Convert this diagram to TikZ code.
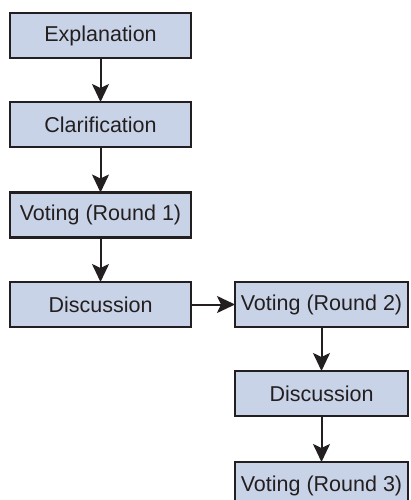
\documentclass[tikz,border=0pt]{standalone}
\usepackage{fontspec}
\setmainfont{Liberation Sans}
\usetikzlibrary{arrows.meta}
\definecolor{boxfill}{HTML}{C9D3E7}
\definecolor{ink}{HTML}{231F20}
\tikzset{
  stepbox/.style={draw=ink, line width=2.2pt, fill=boxfill, inner sep=0pt, outer sep=0pt},
  lbox/.style={stepbox, minimum width=181pt, minimum height=45pt},
  rbox/.style={stepbox, minimum width=173pt, minimum height=45pt},
  flow/.style={draw=ink, line width=2pt, -{Stealth[length=18pt,width=17pt,inset=4pt]}},
  lbl/.style={font=\fontsize{21.5pt}{25pt}\selectfont, text=ink}
}
\begin{document}
\begin{tikzpicture}[x=1pt,y=-1pt]
\useasboundingbox (0,0) rectangle (410,500);
\clip (0,0) rectangle (410,500);
\node[lbox] (n1) at (100.5,35.5) {};
\node[lbox] (n2) at (100.5,124.5) {};
\node[lbox] (n3) at (100.5,215) {};
\node[lbox] (n4) at (100.5,304.5) {};
\node[rbox] (n5) at (321.5,304.5) {};
\node[rbox] (n6) at (321.5,393.5) {};
\node[rbox] (n7) at (321.5,484.5) {};
\node[lbl] (t1) at (n1) {Explanation};
\node[lbl] (t2) at (n2) {Clarification};
\node[lbl] (t3) at (n3) {Voting (Round 1)};
\node[lbl] (t4) at (n4) {Discussion};
\node[lbl] (t5) at (n5) {Voting (Round 2)};
\node[lbl] (t6) at (n6) {Discussion};
\node[lbl] (t7) at ([yshift=-1pt]n7.center) {Voting (Round 3)};
\draw[flow] (n1.south) -- (n2.north);
\draw[flow] (n2.south) -- (n3.north);
\draw[flow] (n3.south) -- (n4.north);
\draw[flow] (n4.east) -- (n5.west);
\draw[flow] (n5.south) -- (n6.north);
\draw[flow] (n6.south) -- (n7.north);
\end{tikzpicture}
\end{document}
